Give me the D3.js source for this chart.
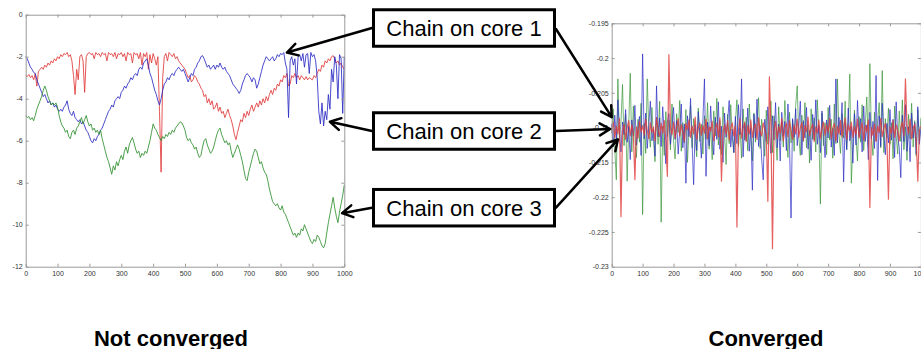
<!DOCTYPE html>
<html><head><meta charset="utf-8">
<script src="https://cdn.jsdelivr.net/npm/d3@7"></script>
<style>
body{margin:0;background:#fff;}
svg{display:block;}
text{font-family:"Liberation Sans",Arial,sans-serif;}
</style>
</head><body>
<svg id="chart" width="921" height="349"></svg>
<script>
// ---------- DATA ----------
const sampleStep = 5; // iteration spacing between stored samples (0..1000)

// Left panel: "Not converged"
const leftRed = [
-2.9,-2.95,-2.85,-3.0,-2.9,-3.1,-2.8,-3.4,-2.7,-2.6,-2.5,-2.6,-2.4,-2.5,-2.3,-2.4,-2.2,-2.3,-2.1,-2.2,
-2.0,-2.1,-1.9,-2.0,-1.85,-1.9,-1.8,-2.0,-1.9,-2.2,-2.9,-3.8,-2.6,-3.1,-2.0,-1.9,-2.2,-3.7,-2.0,-1.85,
-1.8,-1.9,-1.85,-2.1,-1.8,-1.9,-1.85,-2.0,-1.8,-1.9,-1.85,-2.2,-1.8,-1.9,-1.85,-2.0,-1.8,-2.1,-1.85,-1.9,
-1.8,-2.0,-1.85,-2.2,-1.8,-1.9,-1.85,-2.3,-1.8,-1.9,-1.85,-2.1,-1.8,-2.4,-1.85,-2.0,-1.8,-2.6,-1.9,-2.3,
-1.85,-2.1,-2.4,-2.0,-4.6,-7.5,-3.0,-2.0,-1.85,-2.2,-1.8,-1.9,-2.0,-1.85,-2.1,-2.0,-2.2,-2.3,-2.4,-2.5,
-2.6,-2.8,-3.0,-2.9,-3.2,-3.1,-2.9,-3.0,-3.2,-3.3,-3.5,-3.6,-3.9,-3.8,-4.2,-4.0,-4.3,-4.1,-4.5,-4.4,
-4.2,-4.6,-4.4,-4.7,-4.6,-4.9,-4.7,-4.5,-4.8,-5.0,-5.3,-5.7,-5.95,-5.6,-5.3,-5.0,-5.1,-4.7,-4.9,-4.6,
-4.8,-4.5,-4.3,-4.6,-4.4,-4.2,-4.4,-4.1,-4.3,-4.0,-4.2,-3.9,-4.1,-3.8,-3.6,-3.8,-3.5,-3.6,-3.3,-3.4,
-3.1,-3.2,-2.9,-3.0,-2.8,-3.4,-3.3,-2.9,-3.0,-2.8,-3.0,-2.9,-3.1,-2.9,-3.0,-3.1,-2.95,-3.1,-3.0,-3.05,
-3.1,-2.9,-3.0,-2.8,-2.6,-2.7,-2.4,-2.5,-2.2,-2.3,-2.1,-2.2,-2.0,-1.95,-2.1,-2.3,-2.2,-2.4,-2.3,-2.5,
-2.6];
const leftBlue = [
-2.0,-2.1,-2.3,-2.5,-2.6,-2.75,-2.8,-3.1,-3.3,-3.5,-3.7,-3.9,-3.8,-4.0,-4.2,-4.1,-4.3,-4.2,-4.4,-4.3,
-4.5,-4.6,-4.5,-4.6,-4.4,-4.3,-4.1,-4.5,-4.7,-4.8,-4.6,-4.9,-5.0,-5.1,-5.0,-5.2,-5.1,-5.3,-5.5,-5.6,
-5.8,-6.0,-6.1,-5.9,-6.0,-5.8,-5.7,-5.5,-5.4,-5.2,-5.0,-4.8,-4.6,-4.5,-4.3,-4.4,-4.1,-4.0,-3.9,-4.0,
-3.7,-3.6,-3.4,-3.5,-3.3,-3.2,-3.0,-3.1,-2.9,-2.8,-2.9,-2.6,-2.5,-2.6,-2.3,-2.2,-2.1,-2.4,-2.8,-3.0,
-3.3,-3.6,-3.8,-4.1,-4.3,-4.0,-3.6,-3.3,-3.2,-3.0,-3.1,-2.9,-2.8,-2.9,-2.7,-2.6,-2.5,-2.6,-2.7,-2.6,
-2.8,-3.0,-3.2,-3.0,-2.8,-2.9,-2.6,-2.5,-2.3,-2.2,-2.0,-1.95,-2.1,-2.3,-2.5,-2.4,-2.6,-2.5,-2.4,-2.6,
-2.4,-2.5,-2.3,-2.5,-2.6,-2.5,-2.7,-2.8,-2.9,-3.1,-3.3,-3.4,-3.5,-3.6,-3.75,-3.6,-3.3,-3.1,-2.9,-2.8,
-2.9,-3.0,-3.2,-3.0,-3.1,-3.5,-3.3,-3.0,-2.7,-2.4,-2.2,-2.0,-2.1,-2.2,-2.1,-2.0,-2.2,-2.1,-1.9,-2.0,
-1.85,-1.9,-1.8,-2.3,-2.6,-4.9,-2.2,-2.0,-2.4,-2.1,-3.3,-2.0,-1.9,-2.2,-1.85,-2.5,-1.9,-1.85,-2.8,-1.8,
-2.0,-1.9,-2.2,-3.0,-4.6,-5.2,-4.2,-5.3,-4.6,-5.0,-3.8,-4.5,-2.6,-3.2,-2.0,-2.4,-4.0,-1.9,-2.1,-4.7,
-2.0];
const leftGreen = [
-4.8,-4.9,-4.85,-5.0,-4.9,-5.05,-4.8,-4.5,-4.3,-4.1,-3.9,-3.6,-3.4,-3.6,-3.9,-4.1,-4.3,-4.2,-4.3,-4.2,
-4.4,-4.8,-5.1,-5.3,-5.4,-5.6,-5.5,-5.8,-5.9,-5.6,-5.5,-5.7,-5.4,-5.3,-5.1,-4.9,-5.2,-5.0,-4.8,-5.1,
-5.3,-5.2,-5.5,-5.4,-5.6,-5.5,-5.7,-5.5,-5.9,-6.2,-6.5,-6.8,-7.0,-7.3,-7.6,-7.2,-7.4,-7.0,-7.2,-6.9,
-6.7,-6.9,-6.5,-6.3,-6.6,-6.2,-6.0,-5.85,-6.1,-6.4,-6.6,-6.5,-6.8,-6.6,-6.7,-6.5,-6.6,-6.3,-6.0,-5.6,
-5.2,-5.4,-5.5,-5.7,-5.85,-6.0,-5.8,-5.9,-5.7,-5.8,-5.6,-5.7,-5.5,-5.6,-5.4,-5.3,-5.2,-5.1,-5.15,-5.3,
-5.5,-5.85,-6.0,-5.9,-6.1,-6.2,-6.4,-6.3,-6.6,-6.8,-6.7,-6.3,-6.0,-5.9,-6.2,-6.4,-6.6,-6.5,-6.3,-6.0,
-5.7,-5.5,-5.4,-5.7,-5.9,-6.1,-6.0,-6.2,-6.1,-6.5,-6.8,-6.6,-6.4,-6.2,-6.4,-6.7,-7.0,-7.4,-7.8,-7.9,
-7.5,-7.2,-6.9,-6.6,-6.4,-6.5,-6.8,-7.1,-7.0,-7.3,-7.5,-7.6,-7.9,-8.3,-8.6,-8.9,-9.0,-9.1,-9.0,-9.2,
-9.3,-9.1,-9.4,-9.5,-9.7,-9.9,-10.1,-10.3,-10.5,-10.4,-10.6,-10.4,-10.5,-10.2,-10.3,-10.0,-10.2,-10.4,-10.6,-10.8,
-10.9,-10.7,-10.8,-10.5,-10.6,-10.8,-11.0,-11.1,-10.9,-10.4,-9.9,-9.5,-9.1,-8.7,-9.2,-9.6,-9.9,-9.4,-9.0,-8.6,
-8.1];

// Right panel: "Converged"
const rightBlue = [
-.2095,-.2128,-.2082,-.2118,-.2060,-.2106,-.2135,-.2092,-.2110,-.2074,-.2121,-.2098,-.2146,-.2089,-.2112,-.2068,-.2125,-.2101,-.2084,-.2140,
-.1994,-.2116,-.2079,-.2130,-.2097,-.2062,-.2119,-.2103,-.2141,-.2040,-.2113,-.2086,-.2127,-.2070,-.2108,-.2152,-.2093,-.2080,-.2124,-.2099,
-.2071,-.2117,-.2090,-.2138,-.2104,-.2066,-.2129,-.2095,-.2180,-.2083,-.2113,-.2058,-.2122,-.2182,-.2096,-.2133,-.2077,-.2109,-.2144,-.2088,
-.2030,-.2170,-.2092,-.2126,-.2069,-.2111,-.2139,-.2085,-.2117,-.2063,-.2131,-.2098,-.2150,-.2079,-.2114,-.2090,-.2061,-.2128,-.2102,-.2136,
-.2084,-.2123,-.2067,-.2110,-.2030,-.2142,-.2094,-.2119,-.2072,-.2134,-.2100,-.2190,-.2081,-.2115,-.2059,-.2127,-.2097,-.2145,-.2175,-.2088,
-.2120,-.2070,-.2106,-.2137,-.2083,-.2118,-.2064,-.2129,-.2095,-.2148,-.2078,-.2112,-.2091,-.2133,-.2066,-.2121,-.2230,-.2087,-.2114,-.2073,
-.2126,-.2099,-.2062,-.2139,-.2090,-.2115,-.2071,-.2131,-.2104,-.2147,-.2081,-.2118,-.2060,-.2124,-.2097,-.2136,-.2076,-.2110,-.2143,-.2089,
-.2115,-.2068,-.2128,-.2101,-.2140,-.2030,-.2122,-.2085,-.2111,-.2064,-.2178,-.2093,-.2132,-.2072,-.2119,-.2098,-.2151,-.2080,-.2125,-.2061,
-.2113,-.2087,-.2135,-.2069,-.2120,-.2096,-.2146,-.2078,-.2116,-.2091,-.2130,-.2025,-.2176,-.2083,-.2127,-.2065,-.2110,-.2139,-.2094,-.2122,
-.2074,-.2118,-.2088,-.2143,-.2063,-.2112,-.2129,-.2172,-.2082,-.2120,-.2067,-.2134,-.2099,-.2149,-.2079,-.2115,-.2093,-.2138,-.2070,-.2124,
-.2101];
const rightGreen = [
-.2108,-.2073,-.2131,-.2175,-.2030,-.2119,-.2092,-.2038,-.2126,-.2081,-.2177,-.2097,-.2022,-.2135,-.2069,-.2112,-.2143,-.2088,-.2121,-.2065,
-.2225,-.2094,-.2137,-.2030,-.2103,-.2128,-.2071,-.2116,-.2149,-.2085,-.2124,-.2062,-.2236,-.2098,-.2140,-.2077,-.2113,-.2089,-.2132,-.2066,
-.2119,-.2145,-.2080,-.2107,-.2061,-.2134,-.2093,-.2122,-.2074,-.2150,-.2101,-.2068,-.2129,-.2087,-.2115,-.2142,-.2072,-.2120,-.2095,-.2138,
-.2083,-.2117,-.2064,-.2131,-.2099,-.2146,-.2076,-.2112,-.2058,-.2125,-.2090,-.2139,-.2070,-.2108,-.2153,-.2081,-.2123,-.2067,-.2114,-.2136,
-.2092,-.2060,-.2127,-.2101,-.2144,-.2073,-.2118,-.2085,-.2133,-.2066,-.2110,-.2148,-.2079,-.2121,-.2094,-.2057,-.2130,-.2088,-.2116,-.2141,
-.2075,-.2124,-.2097,-.2062,-.2136,-.2083,-.2111,-.2147,-.2070,-.2119,-.2091,-.2128,-.2061,-.2105,-.2143,-.2078,-.2122,-.2089,-.2134,-.2068,
-.2040,-.2113,-.2140,-.2082,-.2120,-.2064,-.2129,-.2096,-.2151,-.2073,-.2117,-.2086,-.2135,-.2060,-.2110,-.2210,-.2079,-.2126,-.2093,-.2139,
-.2071,-.2118,-.2088,-.2144,-.2066,-.2123,-.2030,-.2109,-.2137,-.2080,-.2115,-.2062,-.2131,-.2097,-.2023,-.2180,-.2126,-.2075,-.2114,-.2148,
-.2084,-.2121,-.2067,-.2133,-.2098,-.2056,-.2127,-.2008,-.2112,-.2140,-.2078,-.2119,-.2091,-.2064,-.2129,-.2018,-.2136,-.2087,-.2115,-.2072,
-.2124,-.2093,-.2145,-.2069,-.2111,-.2138,-.2076,-.2120,-.2060,-.2132,-.2099,-.2147,-.2081,-.2116,-.2065,-.2128,-.2090,-.2141,-.2074,-.2119,
-.2086];
const rightRed = [
-.2103,-.2092,-.2114,-.2098,-.2109,-.2087,-.2228,-.2105,-.2095,-.2117,-.2100,-.2090,-.2112,-.2096,-.2108,-.2175,-.2099,-.2115,-.2091,-.2106,
-.2097,-.2111,-.2088,-.2104,-.2116,-.2093,-.2107,-.2099,-.2119,-.2086,-.2102,-.2113,-.2094,-.2108,-.2090,-.2118,-.2170,-.1995,-.2101,-.2110,
-.2092,-.2115,-.2100,-.2087,-.2112,-.2096,-.2106,-.2120,-.2094,-.2103,-.2089,-.2114,-.2098,-.2109,-.2085,-.2117,-.2101,-.2093,-.2111,-.2097,
-.2108,-.2088,-.2116,-.2099,-.2105,-.2091,-.2119,-.2102,-.2094,-.2113,-.2086,-.2177,-.2107,-.2096,-.2110,-.2090,-.2118,-.2100,-.2093,-.2112,
-.2098,-.2243,-.2104,-.2087,-.2115,-.2101,-.2092,-.2120,-.2097,-.2109,-.2089,-.2114,-.2100,-.2095,-.2117,-.2086,-.2106,-.2112,-.2093,-.2103,
-.2110,-.2206,-.2027,-.2099,-.2274,-.2104,-.2091,-.2116,-.2098,-.2108,-.2087,-.2119,-.2101,-.2094,-.2113,-.2090,-.2105,-.2117,-.2096,-.2109,
-.2088,-.2114,-.2100,-.2093,-.2118,-.2097,-.2106,-.2085,-.2112,-.2101,-.2095,-.2120,-.2099,-.2108,-.2089,-.2115,-.2102,-.2092,-.2111,-.2096,
-.2107,-.2087,-.2116,-.2100,-.2094,-.2119,-.2098,-.2109,-.2090,-.2113,-.2101,-.2086,-.2117,-.2096,-.2105,-.2092,-.2114,-.2099,-.2110,-.2088,
-.2115,-.2102,-.2093,-.2118,-.2097,-.2106,-.2089,-.2215,-.2100,-.2111,-.2095,-.2120,-.2098,-.2107,-.2087,-.2113,-.2101,-.2094,-.2116,-.2203,
-.2099,-.2108,-.2090,-.2114,-.2096,-.2105,-.2119,-.2100,-.2092,-.2112,-.2030,-.2097,-.2109,-.2088,-.2116,-.2101,-.2095,-.2118,-.2177,-.2104,
-.2098];

const xTickValues = [0,100,200,300,400,500,600,700,800,900,1000];
const leftYTickValues = [0,-2,-4,-6,-8,-10,-12];
const rightYTickValues = [-0.195,-0.2,-0.205,-0.21,-0.215,-0.22,-0.225,-0.23];
const rightYTickLabels = ["-0.195","-0.2","-0.205","-0.21","-0.215","-0.22","-0.225","-0.23"];
const chainLabels = ["Chain on core 1","Chain on core 2","Chain on core 3"];
const panelTitles = ["Not converged","Converged"];
const seriesColors = ["#2b2bc4","#2f8f2f","#e03a3a"]; // core1 blue, core2 green, core3 red

// ---------- DRAW ----------
const svg = d3.select("#chart");

const xL = d3.scaleLinear().domain([0,1000]).range([25.7,344.3]);
const yL = d3.scaleLinear().domain([-12,0]).range([266.7,14.7]);
const xR = d3.scaleLinear().domain([0,1000]).range([611.7,920.9]);
const yR = d3.scaleLinear().domain([-0.23,-0.195]).range([266.7,23.3]);

function drawPanel(x, y, series, colors, opacities, widths, yTicks, yFmt){
  const g = svg.append("g");
  const [x0,x1] = x.range(); const [y0,y1] = y.range();
  const line = d3.line().x((d,i)=>x(i*sampleStep)).y(d=>y(d));
  series.forEach((s,k)=>{
    g.append("path").datum(s).attr("d",line)
      .attr("fill","none").attr("stroke",colors[k])
      .attr("stroke-width",widths[k]).attr("stroke-opacity",opacities[k])
      .attr("stroke-linejoin","round");
  });
  const axColor = "#9a9a9a";
  const styleAxis = sel => {
    sel.selectAll(".domain").attr("stroke",axColor);
    sel.selectAll(".tick line").attr("stroke",axColor);
    sel.selectAll("text").attr("fill","#333").style("font-size","7px")
       .style("font-family","'Liberation Sans',Arial,sans-serif");
  };
  g.append("g").attr("transform",`translate(0,${y0})`)
    .call(d3.axisBottom(x).tickValues(xTickValues).tickSize(-3).tickSizeOuter(0).tickPadding(4).tickFormat(d=>String(d)))
    .call(styleAxis);
  g.append("g").attr("transform",`translate(0,${y1})`)
    .call(d3.axisTop(x).tickValues(xTickValues).tickSize(-3).tickSizeOuter(0).tickFormat(""))
    .call(styleAxis);
  g.append("g").attr("transform",`translate(${x0},0)`)
    .call(d3.axisLeft(y).tickValues(yTicks).tickSize(-3).tickSizeOuter(0).tickPadding(3).tickFormat(yFmt))
    .call(styleAxis);
  g.append("g").attr("transform",`translate(${x1},0)`)
    .call(d3.axisRight(y).tickValues(yTicks).tickSize(-3).tickSizeOuter(0).tickFormat(""))
    .call(styleAxis);
  return g;
}

drawPanel(xL, yL, [leftRed, leftBlue, leftGreen], [seriesColors[2], seriesColors[0], seriesColors[1]],
  [0.85,0.85,0.85], [1,1,1], leftYTickValues, d=>String(d));
drawPanel(xR, yR, [rightGreen, rightBlue, rightRed], [seriesColors[1], seriesColors[0], seriesColors[2]],
  [0.65,0.7,0.8], [1,1,1.2], rightYTickValues, (d,i)=>rightYTickLabels[i]);

// Panel titles
svg.append("text").attr("x",171).attr("y",345.5).attr("text-anchor","middle")
  .style("font-size","22px").style("font-weight","bold").text(panelTitles[0]);
svg.append("text").attr("x",766).attr("y",345.5).attr("text-anchor","middle")
  .style("font-size","22px").style("font-weight","bold").text(panelTitles[1]);

// Annotation boxes and arrows
const boxX = 373.5, boxW = 181, boxH = 36.5;
const boxCY = [28, 131, 207.7];
const leftTargets = [[xL(820), yL(-1.8)], [xL(955), yL(-5.1)], [xL(993), yL(-9.45)]];
const rightTargets = [[xR(0), yR(-0.2085)], [xR(-5), yR(-0.2102)], [xR(20), yR(-0.2117)]];

function arrow(x1,y1,x2,y2){
  const a = Math.atan2(y2-y1, x2-x1), L = 12, s = Math.PI/6;
  const p = d3.path();
  p.moveTo(x1,y1); p.lineTo(x2,y2);
  p.moveTo(x2 - L*Math.cos(a-s), y2 - L*Math.sin(a-s)); p.lineTo(x2,y2);
  p.lineTo(x2 - L*Math.cos(a+s), y2 - L*Math.sin(a+s));
  svg.append("path").attr("d",p.toString()).attr("fill","none")
    .attr("stroke","#000").attr("stroke-width",2.5).attr("stroke-linecap","round").attr("stroke-linejoin","round");
}

chainLabels.forEach((lab,i)=>{
  const cy = boxCY[i];
  arrow(boxX-1.5, cy, leftTargets[i][0], leftTargets[i][1]);
  arrow(boxX+boxW+1.5, cy + (i===0?1:0), rightTargets[i][0], rightTargets[i][1]);
  svg.append("rect").attr("x",boxX).attr("y",cy-boxH/2).attr("width",boxW).attr("height",boxH)
    .attr("fill","#fff").attr("stroke","#000").attr("stroke-width",3);
  svg.append("text").attr("x",boxX+boxW/2).attr("y",cy+8).attr("text-anchor","middle")
    .style("font-size","22px").text(lab);
});
</script>
</body></html>
